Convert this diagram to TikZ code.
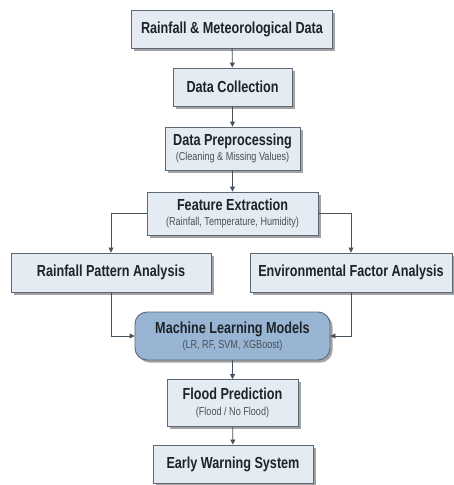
\documentclass[tikz,border=0pt]{standalone}
\usepackage{fontspec}
\setmainfont[FakeStretch=0.79]{Liberation Sans}
\usetikzlibrary{shadows,arrows.meta}
\definecolor{boxfill}{HTML}{E4EBF3}
\definecolor{boxline}{HTML}{5C6875}
\definecolor{mlfill}{HTML}{98B5D3}
\definecolor{txt}{HTML}{1E2328}
\definecolor{subtxt}{HTML}{4A5058}
\definecolor{arr}{HTML}{46525E}
\newcommand{\subline}[1]{{\fontsize{11.5}{13}\selectfont\mdseries\color{subtxt}#1}}
\begin{document}
\begin{tikzpicture}[x=1pt,y=-1pt,
  box/.style={draw=boxline, line width=0.9pt, fill=boxfill, rectangle, inner sep=0pt, align=center,
     text=txt, font=\fontsize{16}{17}\selectfont\bfseries,
     drop shadow={shadow xshift=2.5pt, shadow yshift=-2.5pt, fill=black!45, opacity=0.8}},
  mlbox/.style={box, fill=mlfill, rounded corners=12pt},
  conn/.style={draw=arr, line width=0.9pt, -{Triangle[width=5pt,length=5pt]}}
]
\useasboundingbox[fill=white] (0,0) rectangle (453,485);
\node[box, minimum width=201pt, minimum height=38pt] (b1) at (232,29) {Rainfall \& Meteorological Data};
\node[box, minimum width=119pt, minimum height=38pt] (b2) at (232.5,87) {Data Collection};
\node[box, minimum width=135pt, minimum height=43pt] (b3) at (232.5,148.5) {Data Preprocessing\\[-2pt]\subline{(Cleaning \& Missing Values)}};
\node[box, minimum width=171pt, minimum height=43pt] (b4) at (232.5,213.5) {Feature Extraction\\[-2pt]\subline{(Rainfall, Temperature, Humidity)}};
\node[box, minimum width=200pt, minimum height=39pt] (b5) at (111,272.5) {Rainfall Pattern Analysis};
\node[box, minimum width=202pt, minimum height=39pt] (b6) at (351,272.5) {Environmental Factor Analysis};
\node[mlbox, minimum width=195pt, minimum height=48pt] (ml) at (232.5,336) {Machine Learning Models\\[-2pt]\subline{(LR, RF, SVM, XGBoost)}};
\node[box, minimum width=131pt, minimum height=47pt] (fp) at (232.5,403) {Flood Prediction\\[-1pt]\subline{(Flood / No Flood)}};
\node[box, minimum width=160pt, minimum height=38pt] (ew) at (233,464) {Early Warning System};
\draw[conn] (b1) -- (b2);
\draw[conn] (b2) -- (b3);
\draw[conn] (b3) -- (b4);
\draw[conn] (b4.west) -| (b5.north);
\draw[conn] (b4.east) -| (b6.north);
\draw[conn] (b5.south) |- (ml.west);
\draw[conn] (b6.south) |- (ml.east);
\draw[conn] (ml) -- (fp);
\draw[conn] (fp) -- (ew);
\end{tikzpicture}
\end{document}
